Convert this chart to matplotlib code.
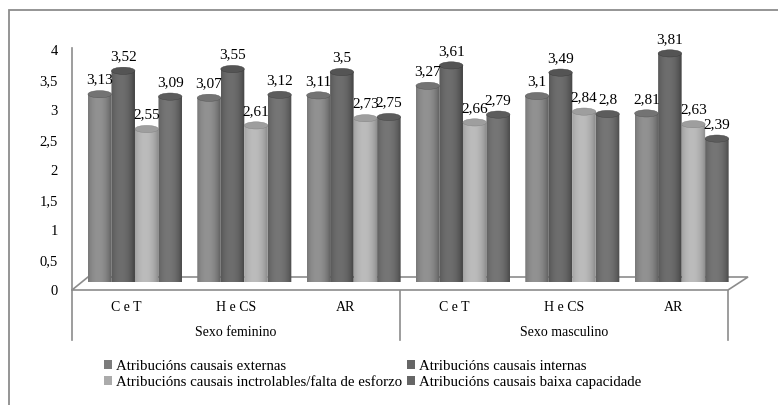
import numpy as np
import matplotlib
matplotlib.use("Agg")
import matplotlib.pyplot as plt
from matplotlib.patches import Ellipse, PathPatch, Patch, Polygon, Rectangle
from matplotlib.path import Path
from matplotlib.lines import Line2D
from matplotlib.transforms import blended_transform_factory

# ---- data -------------------------------------------------------------
categories = ["C e T", "H e CS", "AR", "C e T", "H e CS", "AR"]
groups = ["Sexo feminino", "Sexo masculino"]
series_names = [
    "Atribucións causais externas",
    "Atribucións causais internas",
    "Atribucións causais inctrolables/falta de esforzo",
    "Atribucións causais baixa capacidade",
]
externas = [3.13, 3.07, 3.11, 3.27, 3.10, 2.81]
internas = [3.52, 3.55, 3.50, 3.61, 3.49, 3.81]
inctrolables = [2.55, 2.61, 2.73, 2.66, 2.84, 2.63]
baixa = [3.09, 3.12, 2.75, 2.79, 2.80, 2.39]
y_ticks = [0, 0.5, 1, 1.5, 2, 2.5, 3, 3.5, 4]

series = [externas, internas, inctrolables, baixa]

# ---- styling ----------------------------------------------------------
# (edge shade, highlight shade, legend swatch) for the cylinder gradients
shades = [
    ("#545454", "#929292", "#7c7c7c"),
    ("#3a3a3a", "#6e6e6e", "#666666"),
    ("#808080", "#bcbcbc", "#ababab"),
    ("#424242", "#767676", "#666666"),
]
SERIF = ["Liberation Serif", "DejaVu Serif"]
plt.rcParams["font.family"] = SERIF

W, H, DPI = 778, 405, 100
AX_L, AX_R, AX_B, AX_T = 72, 728, 290, 50          # plot area in pixels
DEPTH_X, DEPTH_Y = 8.3, 8.0                          # bars sit inside the floor
FLOOR_DX_L, FLOOR_DX_R, FLOOR_DY = 16, 20, 13
BOX_BOTTOM = 340
BAR_W = 0.215
GRID = "#8c8c8c"


def fx(px):
    return px / W


def fy(py):
    return 1 - py / H


fig = plt.figure(figsize=(W / DPI, H / DPI), dpi=DPI)
fig.patch.set_facecolor("white")

# outer chart frame
fig.patches.append(Rectangle((fx(9), -0.2), 1.2, fy(10) + 0.2, transform=fig.transFigure,
                             fill=False, edgecolor=GRID, lw=1.3, zorder=0))

ax_w = fx(AX_R) - fx(AX_L)
ax_h = fy(AX_T) - fy(AX_B)

# axis with ticks and category labels
ax = fig.add_axes([fx(AX_L), fy(AX_B), ax_w, ax_h])
ax.set_xlim(-0.5, len(categories) - 0.5)
ax.set_ylim(0, 4)
ax.set_yticks(y_ticks)
ax.set_yticklabels([f"{t:g}".replace(".", ",") for t in y_ticks], fontsize=10.5)
ax.set_xticks(range(len(categories)))
ax.set_xticklabels(categories, fontsize=10)
ax.tick_params(axis="both", length=0)
ax.tick_params(axis="y", pad=10)
ax.tick_params(axis="x", pad=8)
for s in ["top", "right", "bottom"]:
    ax.spines[s].set_visible(False)
ax.spines["left"].set_color(GRID)
ax.spines["left"].set_linewidth(1.2)
ax.spines["left"].set_bounds(0, 4.03)
ax.patch.set_alpha(0)

# floor of the 3-D plot area
floor = Polygon([(fx(AX_L), fy(AX_B)), (fx(AX_R), fy(AX_B)),
                 (fx(AX_R + FLOOR_DX_R), fy(AX_B - FLOOR_DY)),
                 (fx(AX_L + FLOOR_DX_L), fy(AX_B - FLOOR_DY))],
                closed=True, transform=fig.transFigure, facecolor="white",
                edgecolor=GRID, lw=1.2, zorder=1)
fig.patches.append(floor)

# category box lines and group labels
bt = blended_transform_factory(ax.transData, ax.transAxes)
box_bottom = (AX_B - BOX_BOTTOM) / (AX_B - AX_T)
n_per_group = len(categories) // len(groups)
for k in range(len(groups) + 1):
    xline = -0.5 + k * n_per_group
    ax.add_line(Line2D([xline, xline], [0, box_bottom], transform=bt,
                       color=GRID, lw=1.2, clip_on=False))
for k, g in enumerate(groups):
    xc = -0.5 + (k + 0.5) * n_per_group
    ax.text(xc, box_bottom + 0.03, g, transform=bt, ha="center", va="center",
            fontsize=10)

# bars, drawn slightly back into the floor
bax = fig.add_axes([fx(AX_L + DEPTH_X), fy(AX_B - DEPTH_Y), ax_w, ax_h], zorder=3)
bax.set_xlim(-0.5, len(categories) - 0.5)
bax.set_ylim(0, 4)
bax.axis("off")

px_per_unit = (AX_B - AX_T) / 4.0
e = 3.6 / px_per_unit          # half height of the cylinder ellipses
n_cols = 64


def cylinder(axis, xc, val, w, edge, light, z):
    x0, x1 = xc - w / 2, xc + w / 2
    th = np.linspace(np.pi, 2 * np.pi, 40)
    bottom = np.column_stack([xc + w / 2 * np.cos(th), e * np.sin(th)])
    verts = np.vstack([[x0, val], [x0, 0], bottom, [x1, 0], [x1, val], [x0, val]])
    clip = PathPatch(Path(verts), transform=axis.transData, facecolor="none",
                     edgecolor="none")
    axis.add_patch(clip)
    t = np.linspace(0, 1, n_cols)
    prof = np.clip(1 - ((t - 0.42) / 0.6) ** 2, 0, 1) ** 0.8
    c0 = np.array(matplotlib.colors.to_rgb(edge))
    c1 = np.array(matplotlib.colors.to_rgb(light))
    img = c0[None, :] + prof[:, None] * (c1 - c0)[None, :]
    im = axis.imshow(img[None, :, :], extent=(x0, x1, -e, val), aspect="auto",
                     interpolation="bilinear", zorder=z)
    im.set_clip_path(clip)
    cap = 0.5 * c0 + 0.5 * c1
    axis.add_patch(Ellipse((xc, val), w, 2 * e, facecolor=cap,
                           edgecolor=c0, lw=0.3, zorder=z + 0.1))


for si, (vals, (edge, light, _)) in enumerate(zip(series, shades)):
    for ci, v in enumerate(vals):
        xc = ci + (si - 1.5) * BAR_W
        cylinder(bax, xc, v, BAR_W, edge, light, 3 + si * 0.01)
        bax.annotate(f"{v:g}".replace(".", ","), (xc, v), xytext=(0, 5.5),
                     textcoords="offset points", ha="center", va="bottom",
                     fontsize=11, zorder=10, annotation_clip=False)

bax.set_xlim(-0.5, len(categories) - 0.5)
bax.set_ylim(0, 4)

# legend: row by row, two columns
handles = [Patch(facecolor=shades[i][2], edgecolor="none") for i in range(4)]
order = [0, 2, 1, 3]
fig.legend([handles[i] for i in order], [series_names[i] for i in order],
           ncol=2, loc="upper left", bbox_to_anchor=(fx(104), fy(360)),
           frameon=False, fontsize=10.7, handlelength=0.55, handleheight=0.55,
           handletextpad=0.25, columnspacing=0.35, labelspacing=0.2,
           borderaxespad=0, borderpad=0)

fig.savefig("out.png", dpi=DPI, facecolor="white")
